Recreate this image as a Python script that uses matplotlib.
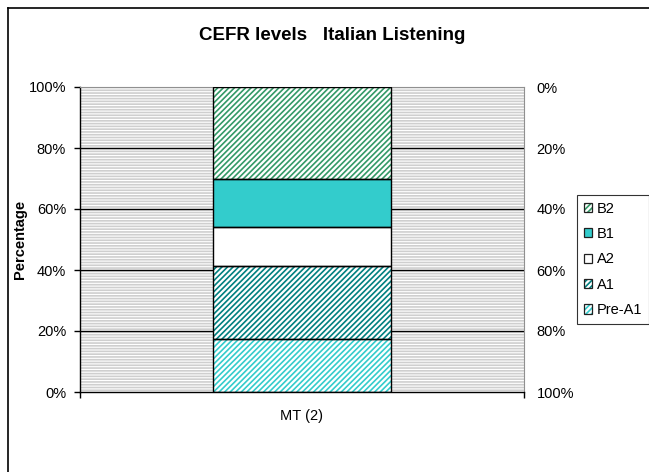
import matplotlib
matplotlib.use('Agg')
import matplotlib.pyplot as plt
from matplotlib.patches import Rectangle
from matplotlib.lines import Line2D

categories = ['MT (2)']
levels = ['Pre-A1', 'A1', 'A2', 'B1', 'B2']
percent = [17.3, 24.0, 12.8, 15.7, 30.2]
y_ticks = [0, 20, 40, 60, 80, 100]
y_ticklabels = ['0%', '20%', '40%', '60%', '80%', '100%']

# fill colour, hatch, hatch colour per level
styles = {
    'Pre-A1': ('white', '//////', '#33CCCC'),
    'A1':     ('white', '//////', '#008080'),
    'A2':     ('white', None, None),
    'B1':     ('#33CCCC', None, None),
    'B2':     ('white', '//////', '#339966'),
}

plt.rcParams['font.family'] = ['Liberation Sans', 'DejaVu Sans']
plt.rcParams['hatch.linewidth'] = 1.2

fig = plt.figure(figsize=(6.49, 4.72), dpi=100)
ax = fig.add_axes([80/649, 1-392/472, 444/649, 305/472])

# striped plot-area background
ax.add_patch(Rectangle((0, 0), 1, 1, transform=ax.transAxes, facecolor='white',
                       edgecolor='#cfcfcf', hatch='------', linewidth=0, zorder=0))
for y in y_ticks[1:-1]:
    ax.axhline(y, color='black', lw=1.0, zorder=1)

x = range(len(categories))
bottom = 0
for lev, val in zip(levels, percent):
    fc, hatch, hc = styles[lev]
    if hatch:
        ax.bar(x, val, 0.4, bottom=bottom, color=fc, hatch=hatch, edgecolor=hc,
               linewidth=0, zorder=2)
    else:
        ax.bar(x, val, 0.4, bottom=bottom, color=fc, linewidth=0, zorder=2)
    ax.bar(x, val, 0.4, bottom=bottom, fill=False, edgecolor='black',
           linewidth=1.0, zorder=3)
    bottom += val

ax.set_xlim(-0.5, 0.5)
ax.set_ylim(0, 100)
ax.set_xticks(list(x))
ax.set_xticklabels(categories, fontsize=10.5)
ax.set_xticks([-0.5, 0.5], minor=True)
ax.tick_params(axis='x', which='major', length=0, pad=12)
ax.tick_params(axis='x', which='minor', length=4, width=1, direction='out')
ax.set_yticks(y_ticks)
ax.set_yticklabels(y_ticklabels, fontsize=10.5)
ax.tick_params(axis='y', length=4, width=1, direction='out', pad=6)
ax.set_ylabel('Percentage', fontsize=10.5, fontweight='bold', labelpad=1)

for s in ['top', 'right']:
    ax.spines[s].set_color('#909090')
for s in ['left', 'bottom']:
    ax.spines[s].set_color('black')
    ax.spines[s].set_linewidth(1.0)

ax2 = ax.twinx()
ax2.set_ylim(100, 0)
ax2.set_yticks(y_ticks)
ax2.set_yticklabels(y_ticklabels, fontsize=10.5)
ax2.tick_params(axis='y', length=0, pad=9)
for s in ax2.spines.values():
    s.set_visible(False)

fig.text(332/649, 1-36/472, 'CEFR levels   Italian Listening', fontsize=13.5,
         fontweight='bold', ha='center', va='center')

# legend (top level first): hatch fill overlaid with black outline
handles = []
for lev in levels[::-1]:
    fc, hatch, hc = styles[lev]
    outline = Rectangle((0, 0), 1, 1, fill=False, edgecolor='#202020', linewidth=0.9)
    if hatch:
        fill = Rectangle((0, 0), 1, 1, facecolor=fc, hatch='//////',
                         edgecolor=hc, linewidth=0)
    else:
        fill = Rectangle((0, 0), 1, 1, facecolor=fc, linewidth=0)
    handles.append((fill, outline))
leg = fig.legend(handles, levels[::-1], loc='upper left',
                 bbox_to_anchor=(577/649, 1-195/472), fontsize=10.5,
                 frameon=True, fancybox=False, edgecolor='black',
                 handlelength=0.6, handleheight=0.6, handletextpad=0.3,
                 labelspacing=0.78, borderpad=0.45, borderaxespad=0)
leg.get_frame().set_linewidth(0.8)

# outer chart border (left and top visible)
fig.add_artist(Line2D([8/649, 8/649], [0, 1-8/472], color='black', lw=1.2,
                      transform=fig.transFigure))
fig.add_artist(Line2D([8/649, 1], [1-8/472, 1-8/472], color='black', lw=1.2,
                      transform=fig.transFigure))

fig.savefig('out.png', dpi=100)
